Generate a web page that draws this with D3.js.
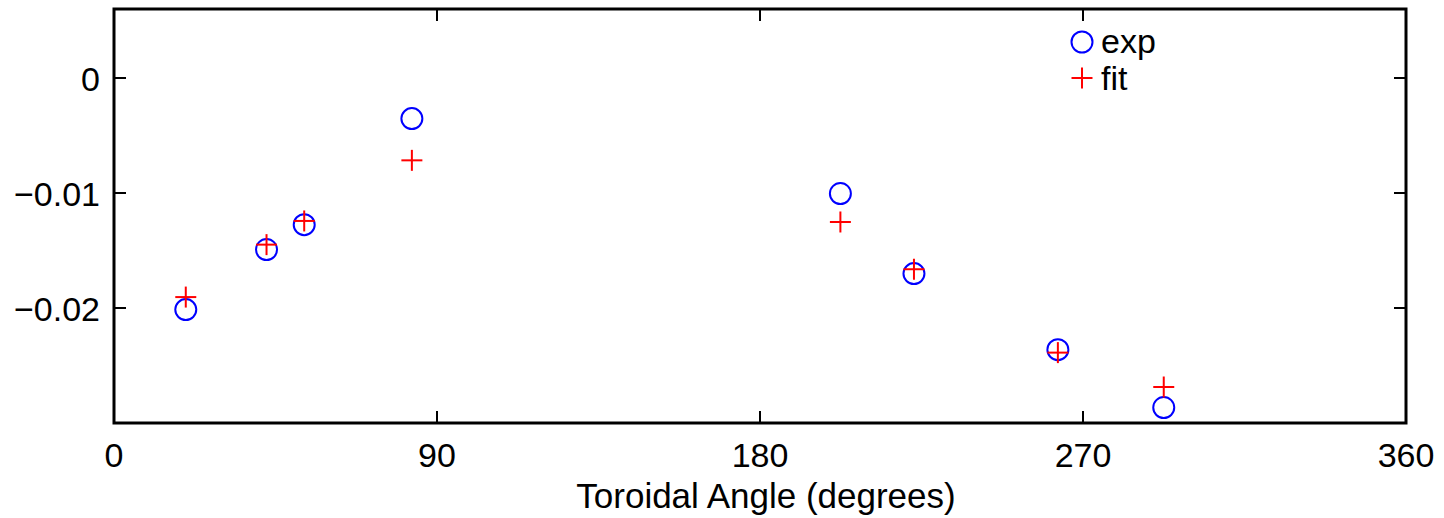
<!DOCTYPE html>
<html><head><meta charset="utf-8">
<script src="https://cdn.jsdelivr.net/npm/d3@7"></script>
<style>body{margin:0;background:#fff}svg{display:block}text{font-family:"Liberation Sans",Arial,sans-serif;fill:#000}</style>
</head><body><svg id="c" width="1444" height="518"></svg>
<script>
const angles = [20, 42.5, 53, 83, 202.4, 222.9, 263, 292.5];
const expVals = [-0.02014, -0.01492, -0.01275, -0.00353, -0.01005, -0.01701, -0.02362, -0.02866];
const fitVals = [-0.01905, -0.01449, -0.01243, -0.00716, -0.01252, -0.01663, -0.02388, -0.02687];
const xTicks = [0, 90, 180, 270, 360];
const yTicks = [0, -0.01, -0.02];
const legendLabels = ["exp", "fit"];

const svg = d3.select("#c");
const L = 114, R = 1406, T = 9, B = 423;
const x = d3.scaleLinear().domain([0, 360]).range([L, R]);
const y = d3.scaleLinear().domain([-0.03, 0.006]).range([B, T]);
const tl = 12;
const fs = 34;

const fmtY = d => d === 0 ? "0" : "\u2212" + d3.format(".2f")(Math.abs(d));

const g = svg.append("g");
xTicks.forEach(t => {
  g.append("line").attr("x1", x(t)).attr("x2", x(t)).attr("y1", B).attr("y2", B - tl).attr("stroke", "#000").attr("stroke-width", 2);
  g.append("line").attr("x1", x(t)).attr("x2", x(t)).attr("y1", T).attr("y2", T + tl).attr("stroke", "#000").attr("stroke-width", 2);
  g.append("text").attr("x", x(t)).attr("y", 467).attr("text-anchor", "middle").attr("font-size", fs).text(t);
});
yTicks.forEach(t => {
  g.append("line").attr("x1", L).attr("x2", L + tl).attr("y1", y(t)).attr("y2", y(t)).attr("stroke", "#000").attr("stroke-width", 2);
  g.append("line").attr("x1", R).attr("x2", R - tl).attr("y1", y(t)).attr("y2", y(t)).attr("stroke", "#000").attr("stroke-width", 2);
  g.append("text").attr("x", 100).attr("y", y(t) + 13).attr("text-anchor", "end").attr("font-size", fs).text(fmtY(t));
});
g.append("rect").attr("x", L).attr("y", T).attr("width", R - L).attr("height", B - T)
  .attr("fill", "none").attr("stroke", "#000").attr("stroke-width", 3);

svg.append("text").attr("x", (L + R) / 2 + 6).attr("y", 508).attr("text-anchor", "middle").attr("font-size", 35)
  .text("Toroidal Angle (degrees)");

const r = 10.5;
const plus = (sel, cx, cy) => {
  sel.append("line").attr("x1", cx - r).attr("x2", cx + r).attr("y1", cy).attr("y2", cy).attr("stroke", "#ff0000").attr("stroke-width", 2);
  sel.append("line").attr("x1", cx).attr("x2", cx).attr("y1", cy - r).attr("y2", cy + r).attr("stroke", "#ff0000").attr("stroke-width", 2);
};

const pts = svg.append("g");
angles.forEach((a, i) => {
  pts.append("circle").attr("cx", x(a)).attr("cy", y(expVals[i])).attr("r", r)
    .attr("fill", "none").attr("stroke", "#0000ff").attr("stroke-width", 2);
});
angles.forEach((a, i) => plus(pts, x(a), y(fitVals[i])));

const lg = svg.append("g");
lg.append("circle").attr("cx", 1082).attr("cy", 42).attr("r", r).attr("fill", "none").attr("stroke", "#0000ff").attr("stroke-width", 2);
plus(lg, 1082, 78);
lg.append("text").attr("x", 1101).attr("y", 53).attr("font-size", fs).text(legendLabels[0]);
lg.append("text").attr("x", 1101).attr("y", 90).attr("font-size", fs).text(legendLabels[1]);
</script></body></html>
